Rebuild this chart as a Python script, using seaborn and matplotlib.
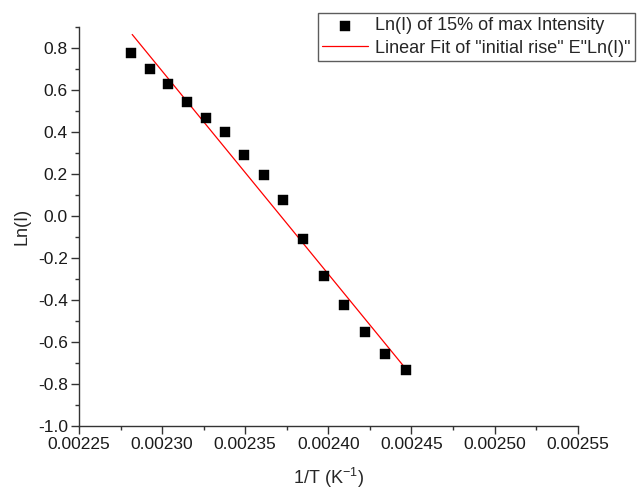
import numpy as np
import pandas as pd
import matplotlib
matplotlib.use("Agg")
import matplotlib.pyplot as plt
import seaborn as sns
from matplotlib.ticker import MultipleLocator, FormatStrFormatter, FuncFormatter

# Data
inv_T = [0.0022813, 0.0022927, 0.0023037, 0.0023150, 0.0023266, 0.0023378,
         0.0023495, 0.0023611, 0.0023729, 0.0023850, 0.0023972, 0.0024094,
         0.0024219, 0.0024343, 0.0024468]
ln_I = [0.773, 0.697, 0.628, 0.542, 0.464, 0.398, 0.291, 0.194, 0.077,
        -0.109, -0.289, -0.427, -0.553, -0.658, -0.737]
fit_x = [0.002282, 0.0024468]
fit_y = [0.863, -0.731]

series_label = "Ln(I) of 15% of max Intensity"
fit_label = 'Linear Fit of "initial rise" E"Ln(I)"'
x_label = "1/T (K$^{-1}$)"
y_label = "Ln(I)"

sns.set_theme(style="ticks")
plt.rcParams['font.family'] = ['Liberation Sans', 'DejaVu Sans']
plt.rcParams['mathtext.fontset'] = 'custom'
plt.rcParams['mathtext.rm'] = 'Liberation Sans'
plt.rcParams['mathtext.it'] = 'Liberation Sans'

fig = plt.figure(figsize=(6.38, 4.91), dpi=100)
ax = fig.add_axes([0.1238, 0.133, 0.9055 - 0.1238, 0.9456 - 0.133])

df = pd.DataFrame({"x": inv_T, "y": ln_I})
fit_df = pd.DataFrame({"x": fit_x, "y": fit_y})

sns.scatterplot(data=df, x="x", y="y", ax=ax, marker="s", s=42, color="black",
                edgecolor="black", linewidth=0.3, label=series_label, zorder=3)
sns.lineplot(data=fit_df, x="x", y="y", ax=ax, color="red", linewidth=0.9,
             label=fit_label, zorder=2)

ax.set_xlim(0.00225, 0.00255)
ax.set_ylim(-1.0, 0.9)
ax.xaxis.set_major_locator(MultipleLocator(0.00005))
ax.xaxis.set_minor_locator(MultipleLocator(0.000025))
ax.yaxis.set_minor_locator(MultipleLocator(0.1))
ax.set_yticks(np.round(np.arange(-1.0, 0.81, 0.2), 1))
ax.xaxis.set_major_formatter(FormatStrFormatter("%.5f"))
ax.yaxis.set_major_formatter(FuncFormatter(lambda v, p: f"{0.0 if abs(v) < 1e-9 else v:.1f}"))

for side in ["top", "right"]:
    ax.spines[side].set_visible(False)
for side in ["left", "bottom"]:
    ax.spines[side].set_color("#333333")
    ax.spines[side].set_linewidth(1.0)

ax.tick_params(which="major", direction="out", length=6, width=1.0,
               labelsize=12.5, color="#333333", labelcolor="#1a1a1a", pad=2)
ax.tick_params(which="minor", direction="out", length=3, width=1.0, color="#333333")

ax.set_xlabel(x_label, fontsize=13, labelpad=10)
ax.set_ylabel(y_label, fontsize=13, labelpad=5)

leg = ax.legend(loc="upper right", bbox_to_anchor=(0.995, 0.974),
                bbox_transform=fig.transFigure, fontsize=13,
                frameon=True, fancybox=False, edgecolor="#333333",
                borderpad=0.25, labelspacing=0.3, handlelength=2.5,
                handletextpad=0.4, borderaxespad=0)
leg.get_frame().set_linewidth(1.0)

fig.savefig("out.png", dpi=100)
